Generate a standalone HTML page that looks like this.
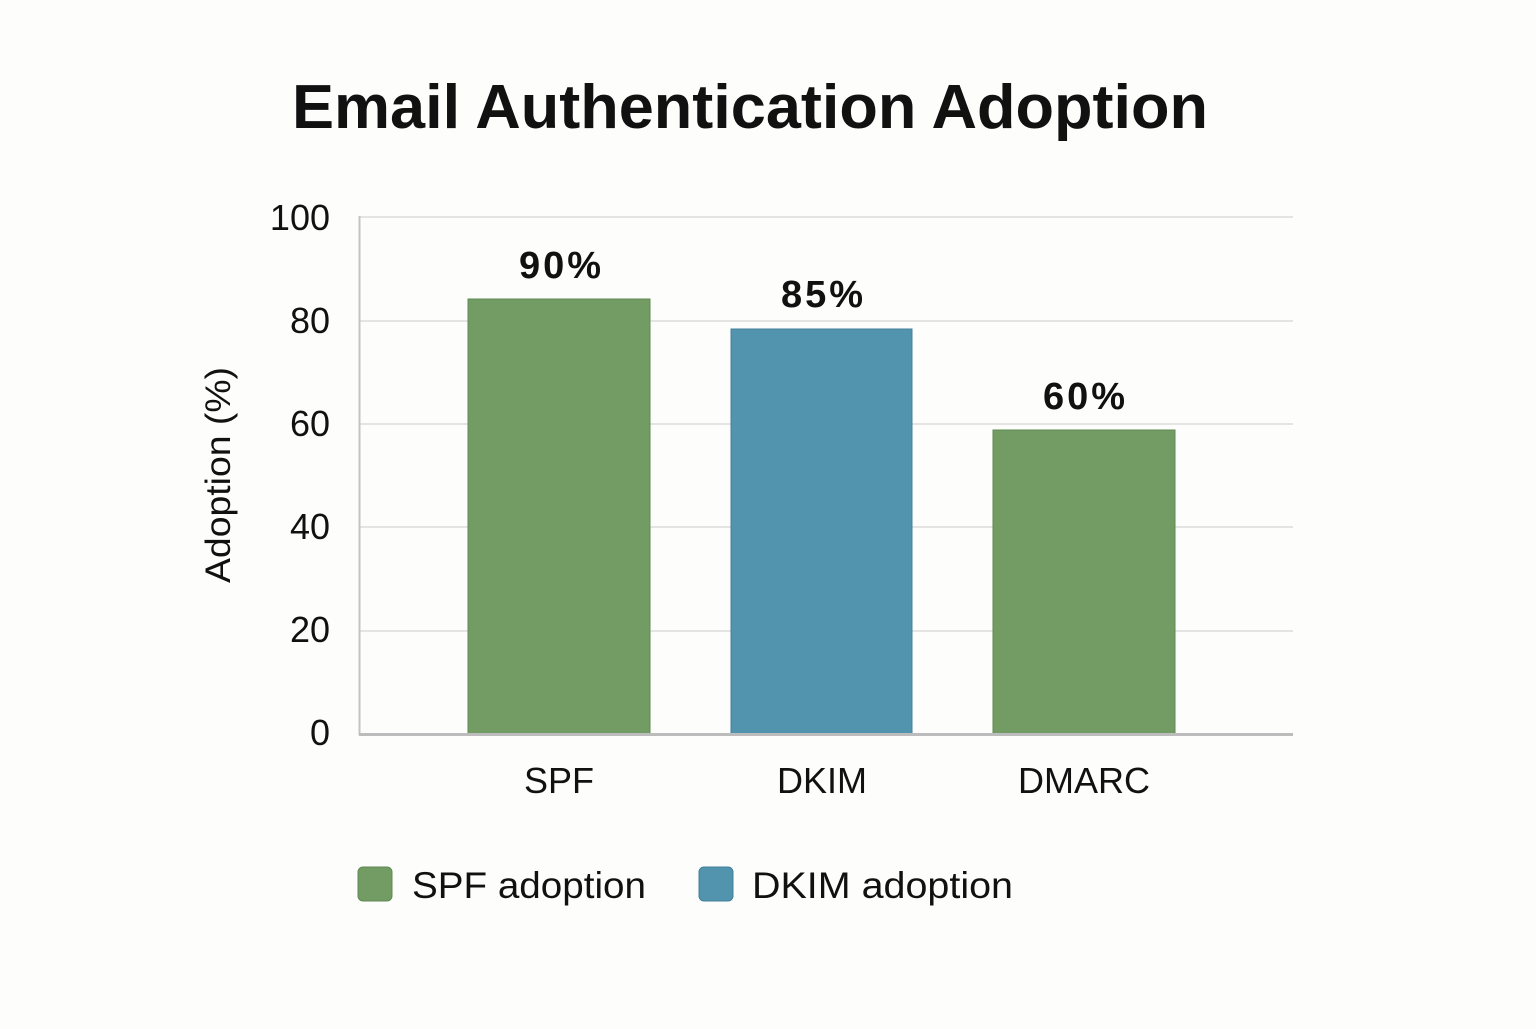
<!DOCTYPE html>
<html><head><meta charset="utf-8"><style>html,body{margin:0;padding:0;background:#fdfdfc;}</style></head>
<body>
<svg width="1536" height="1024" viewBox="0 0 1536 1024" xmlns="http://www.w3.org/2000/svg" font-family="Liberation Sans, DejaVu Sans, sans-serif">
<rect width="1536" height="1024" fill="#fdfdfc"/>
<text x="750" y="128" text-anchor="middle" font-size="62" font-weight="bold" fill="#111" textLength="916" lengthAdjust="spacingAndGlyphs">Email Authentication Adoption</text>
<g stroke="#dcdcdc" stroke-width="1.5">
<line x1="359" y1="217" x2="1293" y2="217"/>
<line x1="359" y1="321" x2="1293" y2="321"/>
<line x1="359" y1="424" x2="1293" y2="424"/>
<line x1="359" y1="527" x2="1293" y2="527"/>
<line x1="359" y1="631" x2="1293" y2="631"/>
</g>
<line x1="359.5" y1="216" x2="359.5" y2="735" stroke="#c4c4c4" stroke-width="2"/>
<rect x="468" y="299" width="182" height="435" fill="#739c65" stroke="#5f8a52" stroke-width="1"/>
<rect x="731" y="329" width="181" height="405" fill="#5294ad" stroke="#42809a" stroke-width="1"/>
<rect x="993" y="430" width="182" height="304" fill="#739c65" stroke="#5f8a52" stroke-width="1"/>
<line x1="359" y1="734.5" x2="1293" y2="734.5" stroke="#bcbcbc" stroke-width="3"/>
<g font-size="38" font-weight="bold" fill="#111" text-anchor="middle" lengthAdjust="spacingAndGlyphs">
<text x="560" y="278" textLength="82">90%</text>
<text x="822" y="307" textLength="82">85%</text>
<text x="1084" y="409" textLength="82">60%</text>
</g>
<g font-size="36" fill="#111" text-anchor="end">
<text x="330" y="230">100</text>
<text x="330" y="333">80</text>
<text x="330" y="436">60</text>
<text x="330" y="539">40</text>
<text x="330" y="642">20</text>
<text x="330" y="745">0</text>
</g>
<text transform="translate(230,475) rotate(-90)" text-anchor="middle" font-size="35" fill="#111" textLength="216" lengthAdjust="spacingAndGlyphs">Adoption (%)</text>
<g font-size="36" fill="#111" text-anchor="middle">
<text x="559" y="793">SPF</text>
<text x="822" y="793">DKIM</text>
<text x="1084" y="793">DMARC</text>
</g>
<rect x="358" y="867" width="34" height="34" rx="5" fill="#739c65" stroke="#5f8a52"/>
<text x="412" y="898" font-size="37" fill="#111" textLength="234" lengthAdjust="spacingAndGlyphs">SPF adoption</text>
<rect x="699" y="867" width="34" height="34" rx="5" fill="#5294ad" stroke="#42809a"/>
<text x="752" y="898" font-size="37" fill="#111" textLength="261" lengthAdjust="spacingAndGlyphs">DKIM adoption</text>
</svg>
</body></html>
